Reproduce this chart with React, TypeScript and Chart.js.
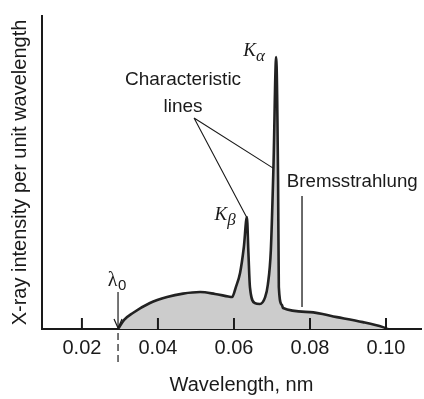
import React, { useEffect, useRef } from 'react';
import { Chart, registerables } from 'chart.js';

Chart.register(...registerables);

// Spectrum (wavelength in nm, intensity in arbitrary units 0..10)
const wavelengths = [
  0.0295, 0.0311, 0.0334, 0.0379, 0.0424, 0.0466, 0.0511, 0.055, 0.0585, 0.0595,
  0.0605, 0.0616, 0.0626, 0.0634, 0.0638, 0.0642, 0.0655, 0.0668, 0.0682, 0.0689,
  0.0697, 0.0704, 0.0711, 0.0716, 0.0718, 0.0726, 0.0729, 0.08, 0.0871,
  0.0939, 0.0992, 0.1005,
];
const intensity = [
  0, 0.29, 0.51, 0.83, 1.02, 1.13, 1.18, 1.12, 1.04, 1.02,
  1.34, 1.79, 2.62, 3.58, 2.43, 1.34, 0.83, 0.8, 1.02, 1.41,
  2.52, 5.24, 8.69, 4.76, 1.34, 0.77, 0.67, 0.54, 0.38,
  0.22, 0.06, 0,
];
const xTicks = [0.02, 0.04, 0.06, 0.08, 0.1];
const xMin = 0.0095;
const xMax = 0.1092;
const yMax = 10;

// Annotation anchors (data units)
const lambda0 = 0.0295;
const lambdaArrowTop = 1.18;
const kAlphaLabel = { x: 0.0658, y: 8.72 };
const kBetaLabel = { x: 0.0582, y: 3.48 };
const charLine1 = { x: 0.0466, y: 7.8 };
const charLine2 = { x: 0.0466, y: 6.93 };
const pointerFrom = { x: 0.0495, y: 6.74 };
const pointerToBeta = { x: 0.0633, y: 3.58 };
const pointerToAlpha = { x: 0.0703, y: 5.14 };
const bremsLabel = { x: 0.0739, y: 4.54 };
const bremsLine = { x: 0.0779, yTop: 4.25, yBottom: 0.7 };

const SANS = '"Liberation Sans", Arial, sans-serif';
const SERIF = '"Liberation Serif", "Times New Roman", serif';
const INK = '#1a1a1a';

const annotations = {
  id: 'annotations',
  afterDatasetsDraw(chart: any) {
    const { ctx, chartArea } = chart;
    const x = chart.scales.x;
    const y = chart.scales.y;
    const px = (v: number) => x.getPixelForValue(v);
    const py = (v: number) => y.getPixelForValue(v);
    ctx.save();
    ctx.strokeStyle = INK;
    ctx.fillStyle = INK;

    // inward tick marks
    ctx.lineWidth = 2;
    xTicks.forEach((v) => {
      const tx = px(v);
      ctx.beginPath();
      ctx.moveTo(tx, chartArea.bottom);
      ctx.lineTo(tx, chartArea.bottom - 11);
      ctx.stroke();
    });

    // dashed lambda0 marker below axis
    const lx = px(lambda0);
    ctx.lineWidth = 1.2;
    ctx.setLineDash([7, 4]);
    ctx.beginPath();
    ctx.moveTo(lx, chartArea.bottom + 4);
    ctx.lineTo(lx, chartArea.bottom + 36);
    ctx.stroke();
    ctx.setLineDash([]);

    // lambda0 arrow
    const ay = py(lambdaArrowTop);
    ctx.beginPath();
    ctx.moveTo(lx, ay);
    ctx.lineTo(lx, chartArea.bottom - 2);
    ctx.stroke();
    ctx.beginPath();
    ctx.moveTo(lx - 4, chartArea.bottom - 10);
    ctx.lineTo(lx, chartArea.bottom - 1);
    ctx.lineTo(lx + 4, chartArea.bottom - 10);
    ctx.stroke();

    // lambda0 label
    ctx.textBaseline = 'alphabetic';
    ctx.font = '20px ' + SERIF;
    ctx.textAlign = 'right';
    ctx.fillText('λ', lx - 0.5, ay - 6);
    ctx.font = '15px ' + SANS;
    ctx.textAlign = 'left';
    ctx.fillText('0', lx, ay - 2);

    // K alpha / K beta labels
    const kLabel = (p: { x: number; y: number }, sub: string) => {
      const kx = px(p.x);
      const ky = py(p.y);
      ctx.font = 'italic 19px ' + SERIF;
      ctx.textAlign = 'right';
      ctx.fillText('K', kx, ky);
      ctx.font = 'italic 17px ' + SERIF;
      ctx.textAlign = 'left';
      ctx.fillText(sub, kx, ky + 5);
    };
    kLabel(kAlphaLabel, 'α');
    kLabel(kBetaLabel, 'β');

    // Characteristic lines label
    ctx.font = '19px ' + SANS;
    ctx.textAlign = 'center';
    ctx.fillText('Characteristic', px(charLine1.x), py(charLine1.y));
    ctx.fillText('lines', px(charLine2.x), py(charLine2.y));

    // pointer lines
    ctx.lineWidth = 1.1;
    ctx.beginPath();
    ctx.moveTo(px(pointerFrom.x), py(pointerFrom.y));
    ctx.lineTo(px(pointerToBeta.x), py(pointerToBeta.y));
    ctx.moveTo(px(pointerFrom.x), py(pointerFrom.y));
    ctx.lineTo(px(pointerToAlpha.x), py(pointerToAlpha.y));
    ctx.stroke();

    // Bremsstrahlung label
    ctx.font = '18.7px ' + SANS;
    ctx.textAlign = 'left';
    ctx.fillText('Bremsstrahlung', px(bremsLabel.x), py(bremsLabel.y));
    ctx.lineWidth = 1.3;
    ctx.beginPath();
    ctx.moveTo(px(bremsLine.x), py(bremsLine.yTop));
    ctx.lineTo(px(bremsLine.x), py(bremsLine.yBottom));
    ctx.stroke();

    // x axis title
    ctx.font = '20px ' + SANS;
    ctx.textAlign = 'center';
    ctx.fillText('Wavelength, nm', (chartArea.left + chartArea.right) / 2 + 10, 391);

    ctx.restore();
  },
};

export default function App() {
  const canvasRef = useRef<HTMLCanvasElement | null>(null);

  useEffect(() => {
    document.body.style.margin = '0';
    const canvas = canvasRef.current;
    if (!canvas) return;
    const data = wavelengths.map((w, i) => ({ x: w, y: intensity[i] }));
    const chart = new Chart(canvas, {
      type: 'line',
      data: {
        datasets: [
          {
            data,
            borderColor: '#222',
            borderWidth: 2.6,
            backgroundColor: '#cccccc',
            fill: 'origin',
            pointRadius: 0,
            cubicInterpolationMode: 'monotone',
          },
        ],
      },
      options: {
        animation: false,
        responsive: false,
        events: [],
        layout: { padding: { top: 16, right: 3, left: 0, bottom: 0 } },
        plugins: { legend: { display: false }, tooltip: { enabled: false } },
        scales: {
          x: {
            type: 'linear',
            min: xMin,
            max: xMax,
            grid: { display: false, drawTicks: false },
            border: { display: true, color: INK, width: 2 },
            afterBuildTicks: (scale: any) => {
              scale.ticks = xTicks.map((v) => ({ value: v }));
            },
            afterFit: (scale: any) => {
              scale.height = 70;
            },
            ticks: {
              padding: 7,
              color: INK,
              font: { family: SANS, size: 20 },
              callback: (v: any) => Number(v).toFixed(2),
            },
          },
          y: {
            min: 0,
            max: yMax,
            grid: { display: false, drawTicks: false },
            border: { display: true, color: INK, width: 2 },
            ticks: { display: false },
            afterFit: (scale: any) => {
              scale.width = 42;
            },
            title: {
              display: true,
              text: 'X-ray intensity per unit wavelength',
              color: INK,
              font: { family: SANS, size: 20 },
              padding: { top: 8, bottom: 0 },
            },
          },
        },
      },
      plugins: [annotations],
    });
    return () => chart.destroy();
  }, []);

  return (
    <div style={{ width: 424, height: 399 }}>
      <canvas ref={canvasRef} width={424} height={399} />
    </div>
  );
}
